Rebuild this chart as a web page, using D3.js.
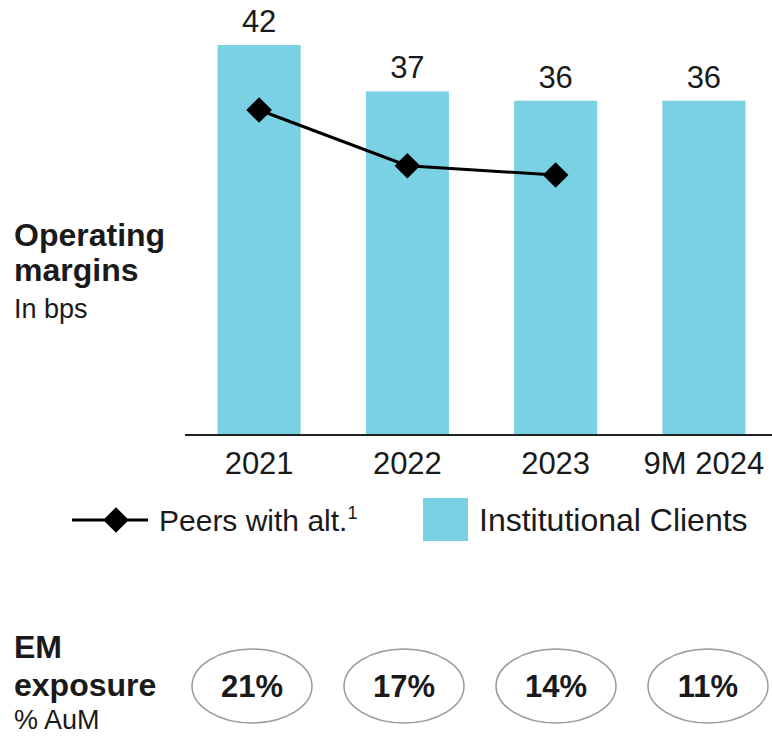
<!DOCTYPE html>
<html>
<head>
<meta charset="utf-8">
<script src="https://cdn.jsdelivr.net/npm/d3@7"></script>
<style>
  html, body { margin: 0; padding: 0; background: #fff; }
  svg { display: block; font-family: "Liberation Sans", Arial, sans-serif; }
</style>
</head>
<body>
<svg id="chart" width="772" height="736"></svg>
<script>
// Operating margins (bps) and EM exposure (% AuM)
const categories = ["2021", "2022", "2023", "9M 2024"];
const institutionalClients = [42, 37, 36, 36];
const peersWithAlt = [35, 29, 28, null];
const emExposure = ["21%", "17%", "14%", "11%"];

const barColor = "#79D1E3";
const ink = "#1a1a1a";

const svg = d3.select("#chart");

const x = d3.scaleBand()
  .domain(categories)
  .range([185, 778])
  .paddingInner(0.44)
  .paddingOuter(0.22);

const y = d3.scaleLinear()
  .domain([0, 42])
  .range([435, 45]);

// Bars
svg.append("g").selectAll("rect")
  .data(categories)
  .join("rect")
  .attr("x", d => x(d))
  .attr("width", x.bandwidth())
  .attr("y", (d, i) => y(institutionalClients[i]))
  .attr("height", (d, i) => y(0) - y(institutionalClients[i]))
  .attr("fill", barColor);

// Value labels above bars
svg.append("g").selectAll("text")
  .data(categories)
  .join("text")
  .attr("x", d => x(d) + x.bandwidth() / 2)
  .attr("y", (d, i) => y(institutionalClients[i]) - 13)
  .attr("text-anchor", "middle")
  .attr("font-size", 31)
  .attr("fill", ink)
  .text((d, i) => institutionalClients[i]);

// Category axis along the baseline
const xAxis = d3.axisBottom(x).tickSize(0).tickPadding(10);
const axisG = svg.append("g")
  .attr("transform", `translate(0,${y(0)})`)
  .call(xAxis);
axisG.select(".domain").remove();
axisG.selectAll("text")
  .attr("font-size", 31)
  .attr("font-family", "Liberation Sans, Arial, sans-serif")
  .attr("fill", ink)
  .attr("dy", "0.92em");
svg.append("line")
  .attr("x1", 185).attr("x2", 772)
  .attr("y1", y(0)).attr("y2", y(0))
  .attr("stroke", "#222")
  .attr("stroke-width", 2);

// Peer line with diamond markers
const peerPoints = categories
  .map((c, i) => ({ c, v: peersWithAlt[i] }))
  .filter(d => d.v != null);

const line = d3.line()
  .x(d => x(d.c) + x.bandwidth() / 2)
  .y(d => y(d.v));

svg.append("path")
  .datum(peerPoints)
  .attr("d", line)
  .attr("fill", "none")
  .attr("stroke", "#000")
  .attr("stroke-width", 3);

const diamond = d3.symbol().type(d3.symbolDiamond2).size(420);
svg.append("g").selectAll("path")
  .data(peerPoints)
  .join("path")
  .attr("transform", d => `translate(${x(d.c) + x.bandwidth() / 2},${y(d.v)})`)
  .attr("d", diamond)
  .attr("fill", "#000");

// Left-hand titles
const title1 = svg.append("text").attr("fill", ink);
title1.append("tspan").attr("x", 14).attr("y", 246)
  .attr("font-weight", "bold").attr("font-size", 32).text("Operating");
title1.append("tspan").attr("x", 14).attr("y", 281)
  .attr("font-weight", "bold").attr("font-size", 32).text("margins");
title1.append("tspan").attr("x", 14).attr("y", 318)
  .attr("font-size", 27).text("In bps");

// Legend
const legend = svg.append("g");
legend.append("line")
  .attr("x1", 72).attr("x2", 148)
  .attr("y1", 520).attr("y2", 520)
  .attr("stroke", "#000").attr("stroke-width", 3);
legend.append("path")
  .attr("transform", "translate(116,520)")
  .attr("d", diamond)
  .attr("fill", "#000");
const peerLabel = legend.append("text")
  .attr("x", 159).attr("y", 531)
  .attr("font-size", 30).attr("fill", ink);
peerLabel.append("tspan").text("Peers with alt.");
peerLabel.append("tspan").attr("font-size", 18).attr("dy", -12).text("1");

legend.append("rect")
  .attr("x", 423).attr("y", 498)
  .attr("width", 45).attr("height", 43)
  .attr("fill", barColor);
legend.append("text")
  .attr("x", 479).attr("y", 531)
  .attr("font-size", 32).attr("fill", ink)
  .text("Institutional Clients");

// EM exposure row
const title2 = svg.append("text").attr("fill", ink);
title2.append("tspan").attr("x", 14).attr("y", 658)
  .attr("font-weight", "bold").attr("font-size", 32).text("EM");
title2.append("tspan").attr("x", 14).attr("y", 696)
  .attr("font-weight", "bold").attr("font-size", 32).text("exposure");
title2.append("tspan").attr("x", 14).attr("y", 729)
  .attr("font-size", 27).text("% AuM");

const xe = d3.scalePoint()
  .domain(categories)
  .range([252, 708]);

const bubbles = svg.append("g").selectAll("g")
  .data(categories)
  .join("g")
  .attr("transform", d => `translate(${xe(d)},686)`);

bubbles.append("ellipse")
  .attr("rx", 60).attr("ry", 37)
  .attr("fill", "#fff")
  .attr("stroke", "#9a9a9a")
  .attr("stroke-width", 1.5);

bubbles.append("text")
  .attr("text-anchor", "middle")
  .attr("y", 11)
  .attr("font-weight", "bold")
  .attr("font-size", 31)
  .attr("fill", ink)
  .text((d, i) => emExposure[i]);
</script>
</body>
</html>
